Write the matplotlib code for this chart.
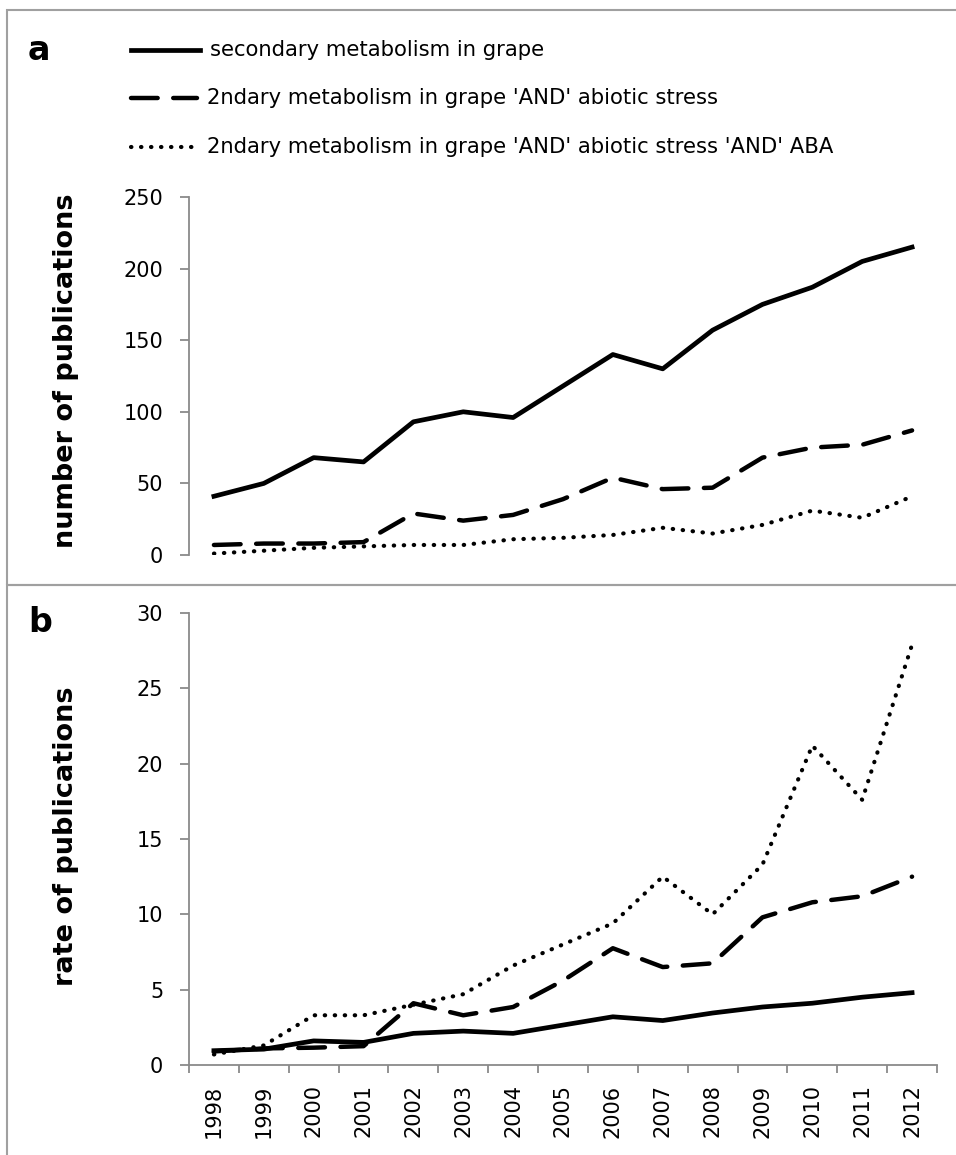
import matplotlib
matplotlib.use("Agg")
import matplotlib.pyplot as plt
from matplotlib.patches import Rectangle

years = ["1998", "1999", "2000", "2001", "2002", "2003", "2004", "2005",
         "2006", "2007", "2008", "2009", "2010", "2011", "2012"]

# panel a: number of publications
n_secondary = [41, 50, 68, 65, 93, 100, 96, 118, 140, 130, 157, 175, 187, 205, 215]
n_abiotic = [7, 8, 8, 9, 29, 24, 28, 39, 54, 46, 47, 68, 75, 77, 87]
n_aba = [1, 3, 5, 6, 7, 7, 11, 12, 14, 19, 15, 21, 31, 26, 41]

# panel b: rate of publications
r_secondary = [0.95, 1.05, 1.6, 1.5, 2.1, 2.25, 2.1, 2.65, 3.2, 2.95, 3.45, 3.85, 4.1, 4.5, 4.8]
r_abiotic = [0.9, 1.1, 1.15, 1.25, 4.1, 3.3, 3.85, 5.6, 7.75, 6.5, 6.75, 9.8, 10.8, 11.2, 12.5]
r_aba = [0.7, 1.3, 3.3, 3.3, 4.0, 4.7, 6.6, 8.0, 9.4, 12.5, 10.0, 13.3, 21.2, 17.6, 27.9]

labels = ["secondary metabolism in grape",
          "2ndary metabolism in grape 'AND' abiotic stress",
          "2ndary metabolism in grape 'AND' abiotic stress 'AND' ABA"]

styles = [dict(linestyle="-", lw=3.4),
          dict(linestyle=(0, (6, 3.5)), lw=3.2, dash_capstyle="round"),
          dict(linestyle=(0, (0.1, 2.3)), lw=3.0, dash_capstyle="round")]
gray = "#8a8a8a"
W, H = 956, 1155

fig = plt.figure(figsize=(W / 100, H / 100), dpi=100)

# panel frames
fig.patches.append(Rectangle((7 / W, 1 - 585 / H), 1.0, 575 / H, transform=fig.transFigure,
                             fill=False, edgecolor="#a0a0a0", lw=1.5))
fig.patches.append(Rectangle((7 / W, -0.01), 1.0, 1 - 585 / H + 0.01, transform=fig.transFigure,
                             fill=False, edgecolor="#a0a0a0", lw=1.5))

x = list(range(len(years)))
left, width = 189 / W, 748 / W


def style_y(ax):
    ax.spines["left"].set_color(gray)
    ax.spines["left"].set_linewidth(1.3)
    ax.tick_params(axis="y", colors=gray, labelcolor="black", length=6.5, width=1.3, pad=12,
                   labelsize=15)


ax_a = fig.add_axes([left, 1 - 555 / H, width, (555 - 197) / H])
for vals, st in zip([n_secondary, n_abiotic, n_aba], styles):
    ax_a.plot(x, vals, color="black", **st)
ax_a.set_xlim(-0.5, 14.5)
ax_a.set_ylim(0, 250)
ax_a.set_yticks(range(0, 251, 50))
ax_a.set_xticks([])
for s in ["top", "right", "bottom"]:
    ax_a.spines[s].set_visible(False)
style_y(ax_a)

ax_b = fig.add_axes([left, 1 - 1065 / H, width, (1065 - 613) / H])
for vals, st in zip([r_secondary, r_abiotic, r_aba], styles):
    ax_b.plot(x, vals, color="black", **st)
ax_b.set_xlim(-0.5, 14.5)
ax_b.set_ylim(0, 30)
ax_b.set_yticks(range(0, 31, 5))
ax_b.set_xticks(x)
ax_b.set_xticklabels(years, rotation=90, fontsize=15)
ax_b.set_xticks([i - 0.5 for i in range(len(years) + 1)], minor=True)
for s in ["top", "right"]:
    ax_b.spines[s].set_visible(False)
ax_b.spines["bottom"].set_color(gray)
ax_b.spines["bottom"].set_linewidth(1.3)
ax_b.tick_params(axis="x", which="major", length=0, pad=14)
ax_b.tick_params(axis="x", which="minor", length=6, width=1.3, color=gray)
style_y(ax_b)

# legend drawn by hand at top of panel a
leg_y = [50, 98, 147]
leg_end = [200, 197, 197]
for lab, st, yy, xe in zip(labels, styles, leg_y, leg_end):
    yf = 1 - yy / H
    fig.add_artist(plt.Line2D([131 / W, xe / W], [yf, yf], color="black",
                              transform=fig.transFigure, **st))
    fig.text((xe + 10) / W, yf, lab, ha="left", va="center", fontsize=15.2)

fig.text(28 / W, 1 - 51 / H, "a", fontsize=24, fontweight="bold", va="center", ha="left")
fig.text(28 / W, 1 - 623 / H, "b", fontsize=24, fontweight="bold", va="center", ha="left")

fig.text(66 / W, 1 - 371 / H, "number of publications", rotation=90, fontsize=19.5,
         fontweight="bold", ha="center", va="center")
fig.text(66 / W, 1 - 836 / H, "rate of publications", rotation=90, fontsize=19.5,
         fontweight="bold", ha="center", va="center")

fig.savefig("out.png", dpi=100)
